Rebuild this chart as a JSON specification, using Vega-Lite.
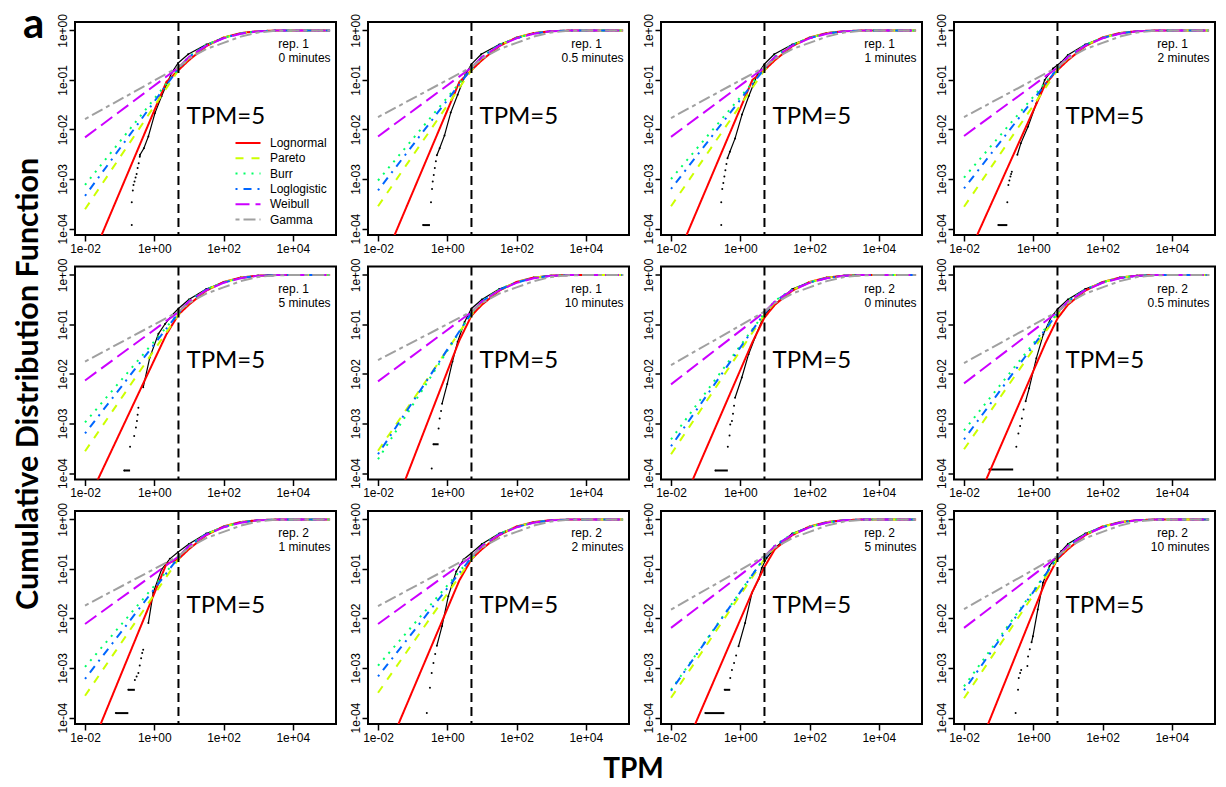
{
"$schema":"https://vega.github.io/schema/vega-lite/v6.json",
"autosize":{"type":"pad"},
"padding":{"left":13,"top":1,"right":0,"bottom":0},
"background":"white",
"title":{"text":"TPM","orient":"bottom","anchor":"middle","frame":"bounds","font":"Lato","fontSize":28,"fontWeight":"bold","color":"black","offset":12,"dx":19},
"data":{"values":[
{"k":"l","p":1,"r":"rep. 1","m":"0 minutes"},
{"k":"l","p":2,"r":"rep. 1","m":"0.5 minutes"},
{"k":"l","p":3,"r":"rep. 1","m":"1 minutes"},
{"k":"l","p":4,"r":"rep. 1","m":"2 minutes"},
{"k":"l","p":5,"r":"rep. 1","m":"5 minutes"},
{"k":"l","p":6,"r":"rep. 1","m":"10 minutes"},
{"k":"l","p":7,"r":"rep. 2","m":"0 minutes"},
{"k":"l","p":8,"r":"rep. 2","m":"0.5 minutes"},
{"k":"l","p":9,"r":"rep. 2","m":"1 minutes"},
{"k":"l","p":10,"r":"rep. 2","m":"2 minutes"},
{"k":"l","p":11,"r":"rep. 2","m":"5 minutes"},
{"k":"l","p":12,"r":"rep. 2","m":"10 minutes"},

{"k":"f","p":1,"x":0.01,"Lognormal":1.2e-5,"Pareto":2.45e-4,"Burr":7.59e-4,"Loglogistic":4.57e-4,"Weibull":0.00692,"Gamma":0.0162},
{"k":"f","p":1,"x":2.239,"Lognormal":0.0912},
{"k":"f","p":1,"x":5.012,"Lognormal":0.158,"Pareto":0.158,"Burr":0.17,"Loglogistic":0.17,"Weibull":0.178,"Gamma":0.182},
{"k":"f","p":2,"x":0.01,"Lognormal":1.2e-5,"Pareto":2.82e-4,"Burr":9.33e-4,"Loglogistic":5.89e-4,"Weibull":0.00724,"Gamma":0.0178},
{"k":"f","p":2,"x":2.239,"Lognormal":0.0912},
{"k":"f","p":2,"x":5.012,"Lognormal":0.158,"Pareto":0.158,"Burr":0.17,"Loglogistic":0.17,"Weibull":0.178,"Gamma":0.182},
{"k":"f","p":3,"x":0.01,"Lognormal":1.35e-5,"Pareto":2.82e-4,"Burr":1.0e-3,"Loglogistic":6.31e-4,"Weibull":0.00708,"Gamma":0.017},
{"k":"f","p":3,"x":2.239,"Lognormal":0.1},
{"k":"f","p":3,"x":5.012,"Lognormal":0.158,"Pareto":0.158,"Burr":0.17,"Loglogistic":0.17,"Weibull":0.178,"Gamma":0.182},
{"k":"f","p":4,"x":0.01,"Lognormal":1.91e-5,"Pareto":2.75e-4,"Burr":1.07e-3,"Loglogistic":6.46e-4,"Weibull":0.00741,"Gamma":0.0178},
{"k":"f","p":4,"x":2.239,"Lognormal":0.0832},
{"k":"f","p":4,"x":5.012,"Lognormal":0.158,"Pareto":0.158,"Burr":0.17,"Loglogistic":0.17,"Weibull":0.178,"Gamma":0.182},
{"k":"f","p":5,"x":0.01,"Lognormal":2.09e-5,"Pareto":2.75e-4,"Burr":1.05e-3,"Loglogistic":6.31e-4,"Weibull":0.00741,"Gamma":0.0178},
{"k":"f","p":5,"x":2.239,"Lognormal":0.0631},
{"k":"f","p":5,"x":5.012,"Lognormal":0.158,"Pareto":0.158,"Burr":0.17,"Loglogistic":0.17,"Weibull":0.178,"Gamma":0.182},
{"k":"f","p":6,"x":0.01,"Lognormal":2.8e-6,"Pareto":2.82e-4,"Burr":1.9e-4,"Loglogistic":2.4e-4,"Weibull":0.00708,"Gamma":0.0191},
{"k":"f","p":6,"x":2.239,"Lognormal":0.0479},
{"k":"f","p":6,"x":5.012,"Lognormal":0.151,"Pareto":0.158,"Burr":0.17,"Loglogistic":0.17,"Weibull":0.178,"Gamma":0.182},
{"k":"f","p":7,"x":0.01,"Lognormal":7.2e-6,"Pareto":2.4e-4,"Burr":4.79e-4,"Loglogistic":3.47e-4,"Weibull":0.00617,"Gamma":0.0151},
{"k":"f","p":7,"x":2.239,"Lognormal":0.0437},
{"k":"f","p":7,"x":5.012,"Lognormal":0.138,"Pareto":0.158,"Burr":0.17,"Loglogistic":0.17,"Weibull":0.178,"Gamma":0.182},
{"k":"f","p":8,"x":0.01,"Lognormal":6.9e-6,"Pareto":3.02e-4,"Burr":7.24e-4,"Loglogistic":4.79e-4,"Weibull":0.00646,"Gamma":0.0166},
{"k":"f","p":8,"x":2.239,"Lognormal":0.0417},
{"k":"f","p":8,"x":5.012,"Lognormal":0.132,"Pareto":0.158,"Burr":0.17,"Loglogistic":0.17,"Weibull":0.178,"Gamma":0.182},
{"k":"f","p":9,"x":0.01,"Lognormal":1.26e-5,"Pareto":2.75e-4,"Burr":1.05e-3,"Loglogistic":6.03e-4,"Weibull":0.00776,"Gamma":0.0182},
{"k":"f","p":9,"x":2.239,"Lognormal":0.126},
{"k":"f","p":9,"x":5.012,"Lognormal":0.158,"Pareto":0.158,"Burr":0.17,"Loglogistic":0.17,"Weibull":0.178,"Gamma":0.182},
{"k":"f","p":10,"x":0.01,"Lognormal":7.9e-6,"Pareto":3.16e-4,"Burr":1.12e-3,"Loglogistic":6.76e-4,"Weibull":0.00776,"Gamma":0.0178},
{"k":"f","p":10,"x":2.239,"Lognormal":0.0589},
{"k":"f","p":10,"x":5.012,"Lognormal":0.158,"Pareto":0.158,"Burr":0.17,"Loglogistic":0.17,"Weibull":0.178,"Gamma":0.182},
{"k":"f","p":11,"x":0.01,"Lognormal":5.5e-6,"Pareto":2.51e-4,"Burr":3.63e-4,"Loglogistic":3.47e-4,"Weibull":0.00646,"Gamma":0.0151},
{"k":"f","p":11,"x":2.239,"Lognormal":0.0347},
{"k":"f","p":11,"x":5.012,"Lognormal":0.11,"Pareto":0.158,"Burr":0.17,"Loglogistic":0.17,"Weibull":0.178,"Gamma":0.182},
{"k":"f","p":12,"x":0.01,"Lognormal":4.6e-6,"Pareto":2.45e-4,"Burr":4.27e-4,"Loglogistic":3.55e-4,"Weibull":0.00646,"Gamma":0.0155},
{"k":"f","p":12,"x":2.239,"Lognormal":0.055},
{"k":"f","p":12,"x":5.012,"Lognormal":0.158,"Pareto":0.158,"Burr":0.17,"Loglogistic":0.17,"Weibull":0.178,"Gamma":0.182},

{"k":"f","p":1,"x":10,"Lognormal":0.25,"Pareto":0.28,"Burr":0.3,"Loglogistic":0.29,"Weibull":0.29,"Gamma":0.27},
{"k":"f","p":1,"x":31.62,"Lognormal":0.48,"Pareto":0.5,"Burr":0.51,"Loglogistic":0.5,"Weibull":0.49,"Gamma":0.42},
{"k":"f","p":1,"x":100,"Lognormal":0.72,"Pareto":0.71,"Burr":0.71,"Loglogistic":0.7,"Weibull":0.69,"Gamma":0.56},
{"k":"f","p":1,"x":316.2,"Lognormal":0.885,"Pareto":0.88,"Burr":0.87,"Loglogistic":0.87,"Weibull":0.86,"Gamma":0.75},
{"k":"f","p":1,"x":1000,"Lognormal":0.966,"Pareto":0.967,"Burr":0.963,"Loglogistic":0.96,"Weibull":0.96,"Gamma":0.91},
{"k":"f","p":1,"x":3162,"Lognormal":0.993,"Pareto":0.994,"Burr":0.993,"Loglogistic":0.992,"Weibull":0.992,"Gamma":0.98},
{"k":"f","p":1,"x":10000,"Lognormal":0.999,"Pareto":0.999,"Burr":0.999,"Loglogistic":0.999,"Weibull":0.999,"Gamma":0.998},
{"k":"f","p":1,"x":120000,"Lognormal":1,"Pareto":1,"Burr":1,"Loglogistic":1,"Weibull":1,"Gamma":1},
{"k":"f","p":2,"x":10,"Lognormal":0.25,"Pareto":0.28,"Burr":0.3,"Loglogistic":0.29,"Weibull":0.29,"Gamma":0.27},
{"k":"f","p":2,"x":31.62,"Lognormal":0.48,"Pareto":0.5,"Burr":0.51,"Loglogistic":0.5,"Weibull":0.49,"Gamma":0.42},
{"k":"f","p":2,"x":100,"Lognormal":0.72,"Pareto":0.71,"Burr":0.71,"Loglogistic":0.7,"Weibull":0.69,"Gamma":0.56},
{"k":"f","p":2,"x":316.2,"Lognormal":0.885,"Pareto":0.88,"Burr":0.87,"Loglogistic":0.87,"Weibull":0.86,"Gamma":0.75},
{"k":"f","p":2,"x":1000,"Lognormal":0.966,"Pareto":0.967,"Burr":0.963,"Loglogistic":0.96,"Weibull":0.96,"Gamma":0.91},
{"k":"f","p":2,"x":3162,"Lognormal":0.993,"Pareto":0.994,"Burr":0.993,"Loglogistic":0.992,"Weibull":0.992,"Gamma":0.98},
{"k":"f","p":2,"x":10000,"Lognormal":0.999,"Pareto":0.999,"Burr":0.999,"Loglogistic":0.999,"Weibull":0.999,"Gamma":0.998},
{"k":"f","p":2,"x":120000,"Lognormal":1,"Pareto":1,"Burr":1,"Loglogistic":1,"Weibull":1,"Gamma":1},
{"k":"f","p":3,"x":10,"Lognormal":0.25,"Pareto":0.28,"Burr":0.3,"Loglogistic":0.29,"Weibull":0.29,"Gamma":0.27},
{"k":"f","p":3,"x":31.62,"Lognormal":0.48,"Pareto":0.5,"Burr":0.51,"Loglogistic":0.5,"Weibull":0.49,"Gamma":0.42},
{"k":"f","p":3,"x":100,"Lognormal":0.72,"Pareto":0.71,"Burr":0.71,"Loglogistic":0.7,"Weibull":0.69,"Gamma":0.56},
{"k":"f","p":3,"x":316.2,"Lognormal":0.885,"Pareto":0.88,"Burr":0.87,"Loglogistic":0.87,"Weibull":0.86,"Gamma":0.75},
{"k":"f","p":3,"x":1000,"Lognormal":0.966,"Pareto":0.967,"Burr":0.963,"Loglogistic":0.96,"Weibull":0.96,"Gamma":0.91},
{"k":"f","p":3,"x":3162,"Lognormal":0.993,"Pareto":0.994,"Burr":0.993,"Loglogistic":0.992,"Weibull":0.992,"Gamma":0.98},
{"k":"f","p":3,"x":10000,"Lognormal":0.999,"Pareto":0.999,"Burr":0.999,"Loglogistic":0.999,"Weibull":0.999,"Gamma":0.998},
{"k":"f","p":3,"x":120000,"Lognormal":1,"Pareto":1,"Burr":1,"Loglogistic":1,"Weibull":1,"Gamma":1},
{"k":"f","p":4,"x":10,"Lognormal":0.25,"Pareto":0.28,"Burr":0.3,"Loglogistic":0.29,"Weibull":0.29,"Gamma":0.27},
{"k":"f","p":4,"x":31.62,"Lognormal":0.48,"Pareto":0.5,"Burr":0.51,"Loglogistic":0.5,"Weibull":0.49,"Gamma":0.42},
{"k":"f","p":4,"x":100,"Lognormal":0.72,"Pareto":0.71,"Burr":0.71,"Loglogistic":0.7,"Weibull":0.69,"Gamma":0.56},
{"k":"f","p":4,"x":316.2,"Lognormal":0.885,"Pareto":0.88,"Burr":0.87,"Loglogistic":0.87,"Weibull":0.86,"Gamma":0.75},
{"k":"f","p":4,"x":1000,"Lognormal":0.966,"Pareto":0.967,"Burr":0.963,"Loglogistic":0.96,"Weibull":0.96,"Gamma":0.91},
{"k":"f","p":4,"x":3162,"Lognormal":0.993,"Pareto":0.994,"Burr":0.993,"Loglogistic":0.992,"Weibull":0.992,"Gamma":0.98},
{"k":"f","p":4,"x":10000,"Lognormal":0.999,"Pareto":0.999,"Burr":0.999,"Loglogistic":0.999,"Weibull":0.999,"Gamma":0.998},
{"k":"f","p":4,"x":120000,"Lognormal":1,"Pareto":1,"Burr":1,"Loglogistic":1,"Weibull":1,"Gamma":1},
{"k":"f","p":5,"x":10,"Lognormal":0.25,"Pareto":0.28,"Burr":0.3,"Loglogistic":0.29,"Weibull":0.29,"Gamma":0.27},
{"k":"f","p":5,"x":31.62,"Lognormal":0.48,"Pareto":0.5,"Burr":0.51,"Loglogistic":0.5,"Weibull":0.49,"Gamma":0.42},
{"k":"f","p":5,"x":100,"Lognormal":0.72,"Pareto":0.71,"Burr":0.71,"Loglogistic":0.7,"Weibull":0.69,"Gamma":0.56},
{"k":"f","p":5,"x":316.2,"Lognormal":0.885,"Pareto":0.88,"Burr":0.87,"Loglogistic":0.87,"Weibull":0.86,"Gamma":0.75},
{"k":"f","p":5,"x":1000,"Lognormal":0.966,"Pareto":0.967,"Burr":0.963,"Loglogistic":0.96,"Weibull":0.96,"Gamma":0.91},
{"k":"f","p":5,"x":3162,"Lognormal":0.993,"Pareto":0.994,"Burr":0.993,"Loglogistic":0.992,"Weibull":0.992,"Gamma":0.98},
{"k":"f","p":5,"x":10000,"Lognormal":0.999,"Pareto":0.999,"Burr":0.999,"Loglogistic":0.999,"Weibull":0.999,"Gamma":0.998},
{"k":"f","p":5,"x":120000,"Lognormal":1,"Pareto":1,"Burr":1,"Loglogistic":1,"Weibull":1,"Gamma":1},
{"k":"f","p":6,"x":10,"Lognormal":0.25,"Pareto":0.28,"Burr":0.3,"Loglogistic":0.29,"Weibull":0.29,"Gamma":0.27},
{"k":"f","p":6,"x":31.62,"Lognormal":0.48,"Pareto":0.5,"Burr":0.51,"Loglogistic":0.5,"Weibull":0.49,"Gamma":0.42},
{"k":"f","p":6,"x":100,"Lognormal":0.72,"Pareto":0.71,"Burr":0.71,"Loglogistic":0.7,"Weibull":0.69,"Gamma":0.56},
{"k":"f","p":6,"x":316.2,"Lognormal":0.885,"Pareto":0.88,"Burr":0.87,"Loglogistic":0.87,"Weibull":0.86,"Gamma":0.75},
{"k":"f","p":6,"x":1000,"Lognormal":0.966,"Pareto":0.967,"Burr":0.963,"Loglogistic":0.96,"Weibull":0.96,"Gamma":0.91},
{"k":"f","p":6,"x":3162,"Lognormal":0.993,"Pareto":0.994,"Burr":0.993,"Loglogistic":0.992,"Weibull":0.992,"Gamma":0.98},
{"k":"f","p":6,"x":10000,"Lognormal":0.999,"Pareto":0.999,"Burr":0.999,"Loglogistic":0.999,"Weibull":0.999,"Gamma":0.998},
{"k":"f","p":6,"x":120000,"Lognormal":1,"Pareto":1,"Burr":1,"Loglogistic":1,"Weibull":1,"Gamma":1},
{"k":"f","p":7,"x":10,"Lognormal":0.25,"Pareto":0.28,"Burr":0.3,"Loglogistic":0.29,"Weibull":0.29,"Gamma":0.27},
{"k":"f","p":7,"x":31.62,"Lognormal":0.48,"Pareto":0.5,"Burr":0.51,"Loglogistic":0.5,"Weibull":0.49,"Gamma":0.42},
{"k":"f","p":7,"x":100,"Lognormal":0.72,"Pareto":0.71,"Burr":0.71,"Loglogistic":0.7,"Weibull":0.69,"Gamma":0.56},
{"k":"f","p":7,"x":316.2,"Lognormal":0.885,"Pareto":0.88,"Burr":0.87,"Loglogistic":0.87,"Weibull":0.86,"Gamma":0.75},
{"k":"f","p":7,"x":1000,"Lognormal":0.966,"Pareto":0.967,"Burr":0.963,"Loglogistic":0.96,"Weibull":0.96,"Gamma":0.91},
{"k":"f","p":7,"x":3162,"Lognormal":0.993,"Pareto":0.994,"Burr":0.993,"Loglogistic":0.992,"Weibull":0.992,"Gamma":0.98},
{"k":"f","p":7,"x":10000,"Lognormal":0.999,"Pareto":0.999,"Burr":0.999,"Loglogistic":0.999,"Weibull":0.999,"Gamma":0.998},
{"k":"f","p":7,"x":120000,"Lognormal":1,"Pareto":1,"Burr":1,"Loglogistic":1,"Weibull":1,"Gamma":1},
{"k":"f","p":8,"x":10,"Lognormal":0.25,"Pareto":0.28,"Burr":0.3,"Loglogistic":0.29,"Weibull":0.29,"Gamma":0.27},
{"k":"f","p":8,"x":31.62,"Lognormal":0.48,"Pareto":0.5,"Burr":0.51,"Loglogistic":0.5,"Weibull":0.49,"Gamma":0.42},
{"k":"f","p":8,"x":100,"Lognormal":0.72,"Pareto":0.71,"Burr":0.71,"Loglogistic":0.7,"Weibull":0.69,"Gamma":0.56},
{"k":"f","p":8,"x":316.2,"Lognormal":0.885,"Pareto":0.88,"Burr":0.87,"Loglogistic":0.87,"Weibull":0.86,"Gamma":0.75},
{"k":"f","p":8,"x":1000,"Lognormal":0.966,"Pareto":0.967,"Burr":0.963,"Loglogistic":0.96,"Weibull":0.96,"Gamma":0.91},
{"k":"f","p":8,"x":3162,"Lognormal":0.993,"Pareto":0.994,"Burr":0.993,"Loglogistic":0.992,"Weibull":0.992,"Gamma":0.98},
{"k":"f","p":8,"x":10000,"Lognormal":0.999,"Pareto":0.999,"Burr":0.999,"Loglogistic":0.999,"Weibull":0.999,"Gamma":0.998},
{"k":"f","p":8,"x":120000,"Lognormal":1,"Pareto":1,"Burr":1,"Loglogistic":1,"Weibull":1,"Gamma":1},
{"k":"f","p":9,"x":10,"Lognormal":0.25,"Pareto":0.28,"Burr":0.3,"Loglogistic":0.29,"Weibull":0.29,"Gamma":0.27},
{"k":"f","p":9,"x":31.62,"Lognormal":0.48,"Pareto":0.5,"Burr":0.51,"Loglogistic":0.5,"Weibull":0.49,"Gamma":0.42},
{"k":"f","p":9,"x":100,"Lognormal":0.72,"Pareto":0.71,"Burr":0.71,"Loglogistic":0.7,"Weibull":0.69,"Gamma":0.56},
{"k":"f","p":9,"x":316.2,"Lognormal":0.885,"Pareto":0.88,"Burr":0.87,"Loglogistic":0.87,"Weibull":0.86,"Gamma":0.75},
{"k":"f","p":9,"x":1000,"Lognormal":0.966,"Pareto":0.967,"Burr":0.963,"Loglogistic":0.96,"Weibull":0.96,"Gamma":0.91},
{"k":"f","p":9,"x":3162,"Lognormal":0.993,"Pareto":0.994,"Burr":0.993,"Loglogistic":0.992,"Weibull":0.992,"Gamma":0.98},
{"k":"f","p":9,"x":10000,"Lognormal":0.999,"Pareto":0.999,"Burr":0.999,"Loglogistic":0.999,"Weibull":0.999,"Gamma":0.998},
{"k":"f","p":9,"x":120000,"Lognormal":1,"Pareto":1,"Burr":1,"Loglogistic":1,"Weibull":1,"Gamma":1},
{"k":"f","p":10,"x":10,"Lognormal":0.25,"Pareto":0.28,"Burr":0.3,"Loglogistic":0.29,"Weibull":0.29,"Gamma":0.27},
{"k":"f","p":10,"x":31.62,"Lognormal":0.48,"Pareto":0.5,"Burr":0.51,"Loglogistic":0.5,"Weibull":0.49,"Gamma":0.42},
{"k":"f","p":10,"x":100,"Lognormal":0.72,"Pareto":0.71,"Burr":0.71,"Loglogistic":0.7,"Weibull":0.69,"Gamma":0.56},
{"k":"f","p":10,"x":316.2,"Lognormal":0.885,"Pareto":0.88,"Burr":0.87,"Loglogistic":0.87,"Weibull":0.86,"Gamma":0.75},
{"k":"f","p":10,"x":1000,"Lognormal":0.966,"Pareto":0.967,"Burr":0.963,"Loglogistic":0.96,"Weibull":0.96,"Gamma":0.91},
{"k":"f","p":10,"x":3162,"Lognormal":0.993,"Pareto":0.994,"Burr":0.993,"Loglogistic":0.992,"Weibull":0.992,"Gamma":0.98},
{"k":"f","p":10,"x":10000,"Lognormal":0.999,"Pareto":0.999,"Burr":0.999,"Loglogistic":0.999,"Weibull":0.999,"Gamma":0.998},
{"k":"f","p":10,"x":120000,"Lognormal":1,"Pareto":1,"Burr":1,"Loglogistic":1,"Weibull":1,"Gamma":1},
{"k":"f","p":11,"x":10,"Lognormal":0.25,"Pareto":0.28,"Burr":0.3,"Loglogistic":0.29,"Weibull":0.29,"Gamma":0.27},
{"k":"f","p":11,"x":31.62,"Lognormal":0.48,"Pareto":0.5,"Burr":0.51,"Loglogistic":0.5,"Weibull":0.49,"Gamma":0.42},
{"k":"f","p":11,"x":100,"Lognormal":0.72,"Pareto":0.71,"Burr":0.71,"Loglogistic":0.7,"Weibull":0.69,"Gamma":0.56},
{"k":"f","p":11,"x":316.2,"Lognormal":0.885,"Pareto":0.88,"Burr":0.87,"Loglogistic":0.87,"Weibull":0.86,"Gamma":0.75},
{"k":"f","p":11,"x":1000,"Lognormal":0.966,"Pareto":0.967,"Burr":0.963,"Loglogistic":0.96,"Weibull":0.96,"Gamma":0.91},
{"k":"f","p":11,"x":3162,"Lognormal":0.993,"Pareto":0.994,"Burr":0.993,"Loglogistic":0.992,"Weibull":0.992,"Gamma":0.98},
{"k":"f","p":11,"x":10000,"Lognormal":0.999,"Pareto":0.999,"Burr":0.999,"Loglogistic":0.999,"Weibull":0.999,"Gamma":0.998},
{"k":"f","p":11,"x":120000,"Lognormal":1,"Pareto":1,"Burr":1,"Loglogistic":1,"Weibull":1,"Gamma":1},
{"k":"f","p":12,"x":10,"Lognormal":0.25,"Pareto":0.28,"Burr":0.3,"Loglogistic":0.29,"Weibull":0.29,"Gamma":0.27},
{"k":"f","p":12,"x":31.62,"Lognormal":0.48,"Pareto":0.5,"Burr":0.51,"Loglogistic":0.5,"Weibull":0.49,"Gamma":0.42},
{"k":"f","p":12,"x":100,"Lognormal":0.72,"Pareto":0.71,"Burr":0.71,"Loglogistic":0.7,"Weibull":0.69,"Gamma":0.56},
{"k":"f","p":12,"x":316.2,"Lognormal":0.885,"Pareto":0.88,"Burr":0.87,"Loglogistic":0.87,"Weibull":0.86,"Gamma":0.75},
{"k":"f","p":12,"x":1000,"Lognormal":0.966,"Pareto":0.967,"Burr":0.963,"Loglogistic":0.96,"Weibull":0.96,"Gamma":0.91},
{"k":"f","p":12,"x":3162,"Lognormal":0.993,"Pareto":0.994,"Burr":0.993,"Loglogistic":0.992,"Weibull":0.992,"Gamma":0.98},
{"k":"f","p":12,"x":10000,"Lognormal":0.999,"Pareto":0.999,"Burr":0.999,"Loglogistic":0.999,"Weibull":0.999,"Gamma":0.998},
{"k":"f","p":12,"x":120000,"Lognormal":1,"Pareto":1,"Burr":1,"Loglogistic":1,"Weibull":1,"Gamma":1},

{"k":"e","p":1,"x":0.224,"y":1.175e-4},{"k":"e","p":1,"x":0.224,"y":3.39e-4},{"k":"e","p":1,"x":0.24,"y":5.89e-4},{"k":"e","p":1,"x":0.251,"y":7.59e-4},{"k":"e","p":1,"x":0.269,"y":8.91e-4},{"k":"e","p":1,"x":0.288,"y":1.07e-3},{"k":"e","p":1,"x":0.309,"y":1.26e-3},{"k":"e","p":1,"x":0.331,"y":1.66e-3},{"k":"e","p":1,"x":0.355,"y":2.09e-3},{"k":"e","p":1,"x":0.38,"y":2.82e-3},{"k":"e","p":1,"x":0.389,"y":3.09e-3},{"k":"e","p":1,"x":0.501,"y":4.17e-3},{"k":"e","p":1,"x":0.676,"y":7.24e-3},{"k":"e","p":1,"x":1.047,"y":0.0214},{"k":"e","p":1,"x":1.622,"y":0.0468},{"k":"e","p":1,"x":3.162,"y":0.138},{"k":"e","p":1,"x":4.898,"y":0.22},{"k":"e","p":1,"x":9.55,"y":0.33},{"k":"e","p":1,"x":31.6,"y":0.52},{"k":"e","p":1,"x":100,"y":0.71},{"k":"e","p":1,"x":316,"y":0.885},{"k":"e","p":1,"x":1000,"y":0.97},{"k":"e","p":1,"x":3162,"y":0.996},{"k":"e","p":1,"x":80000,"y":1},

{"k":"e","p":2,"x":0.2,"y":1.175e-4},{"k":"e","p":2,"x":0.339,"y":3.39e-4},{"k":"e","p":2,"x":0.363,"y":6.31e-4},{"k":"e","p":2,"x":0.38,"y":8.91e-4},{"k":"e","p":2,"x":0.407,"y":1.2e-3},{"k":"e","p":2,"x":0.437,"y":1.66e-3},{"k":"e","p":2,"x":0.468,"y":2.29e-3},{"k":"e","p":2,"x":0.501,"y":3.02e-3},{"k":"e","p":2,"x":0.603,"y":4.17e-3},{"k":"e","p":2,"x":0.832,"y":7.59e-3},{"k":"e","p":2,"x":1.259,"y":0.0219},{"k":"e","p":2,"x":1.995,"y":0.0501},{"k":"e","p":2,"x":3.311,"y":0.126},{"k":"e","p":2,"x":5.012,"y":0.21},{"k":"e","p":2,"x":9.55,"y":0.33},{"k":"e","p":2,"x":31.6,"y":0.52},{"k":"e","p":2,"x":100,"y":0.71},{"k":"e","p":2,"x":316,"y":0.885},{"k":"e","p":2,"x":1000,"y":0.97},{"k":"e","p":2,"x":3162,"y":0.996},{"k":"e","p":2,"x":80000,"y":1},

{"k":"e","p":3,"x":0.282,"y":1.175e-4},{"k":"e","p":3,"x":0.282,"y":3.39e-4},{"k":"e","p":3,"x":0.302,"y":6.31e-4},{"k":"e","p":3,"x":0.324,"y":8.32e-4},{"k":"e","p":3,"x":0.347,"y":1.12e-3},{"k":"e","p":3,"x":0.372,"y":1.51e-3},{"k":"e","p":3,"x":0.398,"y":2.0e-3},{"k":"e","p":3,"x":0.427,"y":2.63e-3},{"k":"e","p":3,"x":0.501,"y":3.55e-3},{"k":"e","p":3,"x":0.708,"y":6.61e-3},{"k":"e","p":3,"x":1.122,"y":0.02},{"k":"e","p":3,"x":1.778,"y":0.0479},{"k":"e","p":3,"x":3.162,"y":0.132},{"k":"e","p":3,"x":5.012,"y":0.21},{"k":"e","p":3,"x":9.55,"y":0.33},{"k":"e","p":3,"x":31.6,"y":0.52},{"k":"e","p":3,"x":100,"y":0.71},{"k":"e","p":3,"x":316,"y":0.885},{"k":"e","p":3,"x":1000,"y":0.97},{"k":"e","p":3,"x":3162,"y":0.996},{"k":"e","p":3,"x":80000,"y":1},

{"k":"e","p":4,"x":0.0977,"y":1.175e-4},{"k":"e","p":4,"x":0.178,"y":3.39e-4},{"k":"e","p":4,"x":0.191,"y":7.59e-4},{"k":"e","p":4,"x":0.204,"y":9.33e-4},{"k":"e","p":4,"x":0.219,"y":1.12e-3},{"k":"e","p":4,"x":0.229,"y":1.26e-3},{"k":"e","p":4,"x":0.24,"y":1.41e-3},{"k":"e","p":4,"x":0.347,"y":3.09e-3},{"k":"e","p":4,"x":0.437,"y":5.25e-3},{"k":"e","p":4,"x":0.708,"y":0.0115},{"k":"e","p":4,"x":1.23,"y":0.0339},{"k":"e","p":4,"x":2.138,"y":0.1},{"k":"e","p":4,"x":3.715,"y":0.17},{"k":"e","p":4,"x":6.457,"y":0.23},{"k":"e","p":4,"x":10,"y":0.32},{"k":"e","p":4,"x":31.6,"y":0.52},{"k":"e","p":4,"x":100,"y":0.71},{"k":"e","p":4,"x":316,"y":0.885},{"k":"e","p":4,"x":1000,"y":0.97},{"k":"e","p":4,"x":3162,"y":0.996},{"k":"e","p":4,"x":80000,"y":1},

{"k":"e","p":5,"x":0.135,"y":1.122e-4},{"k":"e","p":5,"x":0.2,"y":3.39e-4},{"k":"e","p":5,"x":0.263,"y":5.62e-4},{"k":"e","p":5,"x":0.295,"y":8.32e-4},{"k":"e","p":5,"x":0.316,"y":1.12e-3},{"k":"e","p":5,"x":0.331,"y":1.51e-3},{"k":"e","p":5,"x":0.347,"y":2.09e-3},{"k":"e","p":5,"x":0.479,"y":5.37e-3},{"k":"e","p":5,"x":0.741,"y":0.0214},{"k":"e","p":5,"x":1.318,"y":0.0646},{"k":"e","p":5,"x":2.042,"y":0.102},{"k":"e","p":5,"x":3.162,"y":0.151},{"k":"e","p":5,"x":5.012,"y":0.21},{"k":"e","p":5,"x":10,"y":0.32},{"k":"e","p":5,"x":31.6,"y":0.52},{"k":"e","p":5,"x":100,"y":0.71},{"k":"e","p":5,"x":316,"y":0.885},{"k":"e","p":5,"x":1000,"y":0.97},{"k":"e","p":5,"x":3162,"y":0.996},{"k":"e","p":5,"x":80000,"y":1},

{"k":"e","p":6,"x":0.355,"y":1.23e-4},{"k":"e","p":6,"x":0.398,"y":3.8e-4},{"k":"e","p":6,"x":0.562,"y":7.94e-4},{"k":"e","p":6,"x":0.603,"y":1.26e-3},{"k":"e","p":6,"x":0.661,"y":1.78e-3},{"k":"e","p":6,"x":0.708,"y":2.51e-3},{"k":"e","p":6,"x":1.0,"y":6.31e-3},{"k":"e","p":6,"x":1.413,"y":0.0178},{"k":"e","p":6,"x":1.995,"y":0.0447},{"k":"e","p":6,"x":3.162,"y":0.112},{"k":"e","p":6,"x":5.012,"y":0.21},{"k":"e","p":6,"x":10,"y":0.32},{"k":"e","p":6,"x":31.6,"y":0.52},{"k":"e","p":6,"x":100,"y":0.71},{"k":"e","p":6,"x":316,"y":0.885},{"k":"e","p":6,"x":1000,"y":0.97},{"k":"e","p":6,"x":3162,"y":0.996},{"k":"e","p":6,"x":80000,"y":1},

{"k":"e","p":7,"x":0.191,"y":1.122e-4},{"k":"e","p":7,"x":0.437,"y":3.39e-4},{"k":"e","p":7,"x":0.49,"y":5.75e-4},{"k":"e","p":7,"x":0.513,"y":9.55e-4},{"k":"e","p":7,"x":0.575,"y":1.12e-3},{"k":"e","p":7,"x":0.617,"y":1.58e-3},{"k":"e","p":7,"x":0.661,"y":2.29e-3},{"k":"e","p":7,"x":0.708,"y":3.31e-3},{"k":"e","p":7,"x":1.109,"y":8.51e-3},{"k":"e","p":7,"x":1.738,"y":0.0251},{"k":"e","p":7,"x":2.692,"y":0.055},{"k":"e","p":7,"x":4.169,"y":0.1175},{"k":"e","p":7,"x":5.248,"y":0.162},{"k":"e","p":7,"x":8.128,"y":0.22},{"k":"e","p":7,"x":31.6,"y":0.52},{"k":"e","p":7,"x":100,"y":0.71},{"k":"e","p":7,"x":316,"y":0.885},{"k":"e","p":7,"x":1000,"y":0.97},{"k":"e","p":7,"x":3162,"y":0.996},{"k":"e","p":7,"x":80000,"y":1},

{"k":"e","p":8,"x":0.0537,"y":1.175e-4},{"k":"e","p":8,"x":0.324,"y":3.39e-4},{"k":"e","p":8,"x":0.372,"y":6.31e-4},{"k":"e","p":8,"x":0.417,"y":8.91e-4},{"k":"e","p":8,"x":0.468,"y":1.26e-3},{"k":"e","p":8,"x":0.525,"y":1.91e-3},{"k":"e","p":8,"x":0.603,"y":2.82e-3},{"k":"e","p":8,"x":0.759,"y":5.13e-3},{"k":"e","p":8,"x":1.23,"y":0.0209},{"k":"e","p":8,"x":1.95,"y":0.0631},{"k":"e","p":8,"x":3.311,"y":0.141},{"k":"e","p":8,"x":5.248,"y":0.21},{"k":"e","p":8,"x":10,"y":0.32},{"k":"e","p":8,"x":31.6,"y":0.52},{"k":"e","p":8,"x":100,"y":0.71},{"k":"e","p":8,"x":316,"y":0.885},{"k":"e","p":8,"x":1000,"y":0.97},{"k":"e","p":8,"x":3162,"y":0.996},{"k":"e","p":8,"x":80000,"y":1},

{"k":"e","p":9,"x":0.0776,"y":1.23e-4},{"k":"e","p":9,"x":0.178,"y":3.63e-4},{"k":"e","p":9,"x":0.275,"y":5.75e-4},{"k":"e","p":9,"x":0.309,"y":6.76e-4},{"k":"e","p":9,"x":0.347,"y":7.94e-4},{"k":"e","p":9,"x":0.38,"y":1.12e-3},{"k":"e","p":9,"x":0.417,"y":1.58e-3},{"k":"e","p":9,"x":0.447,"y":2.0e-3},{"k":"e","p":9,"x":0.479,"y":2.34e-3},{"k":"e","p":9,"x":0.676,"y":8.13e-3},{"k":"e","p":9,"x":0.933,"y":0.0331},{"k":"e","p":9,"x":1.622,"y":0.0977},{"k":"e","p":9,"x":2.818,"y":0.16},{"k":"e","p":9,"x":4.898,"y":0.22},{"k":"e","p":9,"x":10,"y":0.32},{"k":"e","p":9,"x":31.6,"y":0.52},{"k":"e","p":9,"x":100,"y":0.71},{"k":"e","p":9,"x":316,"y":0.885},{"k":"e","p":9,"x":1000,"y":0.97},{"k":"e","p":9,"x":3162,"y":0.996},{"k":"e","p":9,"x":80000,"y":1},

{"k":"e","p":10,"x":0.257,"y":1.23e-4},{"k":"e","p":10,"x":0.316,"y":3.98e-4},{"k":"e","p":10,"x":0.355,"y":7.94e-4},{"k":"e","p":10,"x":0.398,"y":1.26e-3},{"k":"e","p":10,"x":0.447,"y":1.91e-3},{"k":"e","p":10,"x":0.501,"y":2.82e-3},{"k":"e","p":10,"x":0.708,"y":7.08e-3},{"k":"e","p":10,"x":1.072,"y":0.0282},{"k":"e","p":10,"x":1.82,"y":0.0891},{"k":"e","p":10,"x":2.951,"y":0.155},{"k":"e","p":10,"x":5.012,"y":0.21},{"k":"e","p":10,"x":10,"y":0.32},{"k":"e","p":10,"x":31.6,"y":0.52},{"k":"e","p":10,"x":100,"y":0.71},{"k":"e","p":10,"x":316,"y":0.885},{"k":"e","p":10,"x":1000,"y":0.97},{"k":"e","p":10,"x":3162,"y":0.996},{"k":"e","p":10,"x":80000,"y":1},

{"k":"e","p":11,"x":0.0977,"y":1.23e-4},{"k":"e","p":11,"x":0.355,"y":3.63e-4},{"k":"e","p":11,"x":0.513,"y":6.31e-4},{"k":"e","p":11,"x":0.575,"y":9.12e-4},{"k":"e","p":11,"x":0.661,"y":1.26e-3},{"k":"e","p":11,"x":0.759,"y":1.78e-3},{"k":"e","p":11,"x":0.891,"y":2.75e-3},{"k":"e","p":11,"x":1.38,"y":8.13e-3},{"k":"e","p":11,"x":2.188,"y":0.0331},{"k":"e","p":11,"x":3.388,"y":0.0617},{"k":"e","p":11,"x":4.169,"y":0.105},{"k":"e","p":11,"x":5.754,"y":0.166},{"k":"e","p":11,"x":10.23,"y":0.269},{"k":"e","p":11,"x":31.6,"y":0.52},{"k":"e","p":11,"x":100,"y":0.71},{"k":"e","p":11,"x":316,"y":0.885},{"k":"e","p":11,"x":1000,"y":0.97},{"k":"e","p":11,"x":3162,"y":0.996},{"k":"e","p":11,"x":80000,"y":1},

{"k":"e","p":12,"x":0.309,"y":1.23e-4},{"k":"e","p":12,"x":0.363,"y":3.63e-4},{"k":"e","p":12,"x":0.38,"y":6.31e-4},{"k":"e","p":12,"x":0.417,"y":7.94e-4},{"k":"e","p":12,"x":0.447,"y":9.12e-4},{"k":"e","p":12,"x":0.676,"y":1.1e-3},{"k":"e","p":12,"x":0.708,"y":1.7e-3},{"k":"e","p":12,"x":0.794,"y":2.4e-3},{"k":"e","p":12,"x":0.891,"y":3.31e-3},{"k":"e","p":12,"x":0.977,"y":4.37e-3},{"k":"e","p":12,"x":1.349,"y":0.0151},{"k":"e","p":12,"x":1.905,"y":0.0525},{"k":"e","p":12,"x":2.951,"y":0.115},{"k":"e","p":12,"x":4.074,"y":0.155},{"k":"e","p":12,"x":6.457,"y":0.23},{"k":"e","p":12,"x":10,"y":0.32},{"k":"e","p":12,"x":31.6,"y":0.52},{"k":"e","p":12,"x":100,"y":0.71},{"k":"e","p":12,"x":316,"y":0.885},{"k":"e","p":12,"x":1000,"y":0.97},{"k":"e","p":12,"x":3162,"y":0.996},{"k":"e","p":12,"x":80000,"y":1},

{"k":"d","p":2,"x":0.2,"x2":0.316,"y":1.175e-4},
{"k":"d","p":4,"x":0.0977,"x2":0.178,"y":1.175e-4},
{"k":"d","p":5,"x":0.135,"x2":0.2,"y":1.122e-4},
{"k":"d","p":6,"x":0.398,"x2":0.562,"y":3.8e-4},
{"k":"d","p":7,"x":0.191,"x2":0.437,"y":1.122e-4},
{"k":"d","p":8,"x":0.0537,"x2":0.263,"y":1.175e-4},
{"k":"d","p":9,"x":0.0776,"x2":0.178,"y":1.23e-4},
{"k":"d","p":9,"x":0.178,"x2":0.275,"y":3.63e-4},
{"k":"d","p":11,"x":0.0977,"x2":0.347,"y":1.23e-4},
{"k":"d","p":11,"x":0.355,"x2":0.513,"y":3.63e-4}
]},
"facet":{"field":"p","type":"ordinal","sort":"ascending","header":{"title":null,"labels":false,"labelExpr":"''","labelFontSize":1,"labelPadding":0}},
"columns":4,
"spacing":{"row":31.5,"column":32},
"bounds":"flush",
"resolve":{"axis":{"x":"independent","y":"independent"}},
"spec":{
"width":261,"height":213,
"layer":[
{"transform":[{"filter":"datum.k==='e' && datum.y>0.0025"}],
 "mark":{"type":"line","color":"black","strokeWidth":1.2,"clip":true},
 "encoding":{
  "x":{"field":"x","type":"quantitative","scale":{"type":"log","domain":[0.005129,177800],"nice":false},"axis":{"values":[0.01,1,100,10000],"title":null,"grid":false,"domain":false,"tickSize":6,"tickWidth":1.5,"tickColor":"black","labelExpr":"(datum.value < 1 ? '1e-0' : '1e+0') + round(abs(log(datum.value)/LN10))","labelFont":"Liberation Sans","labelFontSize":12,"labelColor":"black","labelPadding":2,"labelFlush":false,"labelOverlap":false}},
  "y":{"field":"y","type":"quantitative","scale":{"type":"log","domain":[0.0000741,1.479],"nice":false},"axis":{"values":[0.0001,0.001,0.01,0.1,1],"title":null,"grid":false,"domain":false,"tickSize":6,"tickWidth":1.5,"tickColor":"black","labelExpr":"(datum.value < 1 ? '1e-0' : '1e+0') + round(abs(log(datum.value)/LN10))","labelFont":"Liberation Sans","labelFontSize":12,"labelColor":"black","labelAngle":270,"labelAlign":"center","labelBaseline":"bottom","labelPadding":0,"labelFlush":false,"labelOverlap":false}}
 }},
{"transform":[{"filter":"datum.k==='e'"}],
 "mark":{"type":"circle","size":4,"color":"black","opacity":1,"clip":true},
 "encoding":{
  "x":{"field":"x","type":"quantitative","scale":{"type":"log","domain":[0.005129,177800],"nice":false}},
  "y":{"field":"y","type":"quantitative","scale":{"type":"log","domain":[0.0000741,1.479],"nice":false}}
 }},
{"transform":[{"filter":"datum.k==='d'"}],
 "mark":{"type":"rule","color":"black","strokeWidth":2,"clip":true},
 "encoding":{
  "x":{"field":"x","type":"quantitative","scale":{"type":"log","domain":[0.005129,177800],"nice":false}},
  "x2":{"field":"x2"},
  "y":{"field":"y","type":"quantitative","scale":{"type":"log","domain":[0.0000741,1.479],"nice":false}}
 }},
{"transform":[{"filter":"datum.k==='f'"},{"fold":["Lognormal","Pareto","Burr","Loglogistic","Weibull","Gamma"],"as":["d","y"]},{"filter":"isValid(datum.y)"}],
 "mark":{"type":"line","strokeWidth":2,"clip":true},
 "encoding":{
  "x":{"field":"x","type":"quantitative","scale":{"type":"log","domain":[0.005129,177800],"nice":false}},
  "y":{"field":"y","type":"quantitative","scale":{"type":"log","domain":[0.0000741,1.479],"nice":false}},
  "color":{"field":"d","type":"nominal","scale":{"domain":["Lognormal","Pareto","Burr","Loglogistic","Weibull","Gamma"],"range":["#FF0000","#CCFF00","#00FF66","#0066FF","#CC00FF","#A0A0A0"]},"legend":{"title":null,"orient":"none","legendX":167,"legendY":115,"symbolType":"M-2.5,0L2.5,0","symbolSize":100,"symbolStrokeWidth":2,"labelFont":"Liberation Sans","labelFontSize":12,"labelColor":"black","labelOffset":16,"rowPadding":3.3,"padding":0}},
  "strokeDash":{"field":"d","type":"nominal","scale":{"domain":["Lognormal","Pareto","Burr","Loglogistic","Weibull","Gamma"],"range":[[1,0],[8,8],[2,6],[2,6,8,6],[14,6],[4,4,12,4]]},"legend":{"title":null,"orient":"none","legendX":167,"legendY":115,"symbolType":"M-2.5,0L2.5,0","symbolSize":100,"symbolStrokeWidth":2,"labelFont":"Liberation Sans","labelFontSize":12,"labelColor":"black","labelOffset":16,"rowPadding":3.3,"padding":0}}
 }},
{"transform":[{"filter":"datum.k==='l'"}],
 "mark":{"type":"rule","color":"black","strokeWidth":2,"strokeDash":[9,5]},
 "encoding":{
  "x":{"datum":5,"type":"quantitative","scale":{"type":"log","domain":[0.005129,177800],"nice":false}}
 }},
{"transform":[{"filter":"datum.k==='l'"}],
 "mark":{"type":"text","text":"TPM=5","font":"Lato","fontSize":24,"align":"left","baseline":"middle","dx":8,"color":"black"},
 "encoding":{
  "x":{"datum":5,"type":"quantitative","scale":{"type":"log","domain":[0.005129,177800],"nice":false}},
  "y":{"datum":0.018,"type":"quantitative","scale":{"type":"log","domain":[0.0000741,1.479],"nice":false}}
 }},
{"transform":[{"filter":"datum.k==='l'"}],
 "mark":{"type":"text","font":"Liberation Sans","fontSize":12,"align":"left","baseline":"middle","color":"black"},
 "encoding":{
  "x":{"datum":3837,"type":"quantitative","scale":{"type":"log","domain":[0.005129,177800],"nice":false}},
  "y":{"datum":0.52,"type":"quantitative","scale":{"type":"log","domain":[0.0000741,1.479],"nice":false}},
  "text":{"field":"r"}
 }},
{"transform":[{"filter":"datum.k==='l'"}],
 "mark":{"type":"text","font":"Liberation Sans","fontSize":12,"align":"right","baseline":"middle","color":"black"},
 "encoding":{
  "x":{"datum":123900,"type":"quantitative","scale":{"type":"log","domain":[0.005129,177800],"nice":false}},
  "y":{"datum":0.275,"type":"quantitative","scale":{"type":"log","domain":[0.0000741,1.479],"nice":false}},
  "text":{"field":"m"}
 }},
{"transform":[{"filter":"datum.k==='l' && datum.p===1"}],
 "mark":{"type":"text","text":"a","font":"Lato","fontSize":42,"fontWeight":"bold","align":"center","baseline":"alphabetic","color":"black","clip":false},
 "encoding":{
  "x":{"datum":0.000329,"type":"quantitative","scale":{"type":"log","domain":[0.005129,177800],"nice":false}},
  "y":{"datum":0.711,"type":"quantitative","scale":{"type":"log","domain":[0.0000741,1.479],"nice":false}}
 }},
{"transform":[{"filter":"datum.k==='l' && datum.p===5"}],
 "mark":{"type":"text","text":"Cumulative Distribution Function","font":"Lato","fontSize":30.5,"fontWeight":"bold","align":"center","baseline":"middle","angle":270,"color":"black","clip":false},
 "encoding":{
  "x":{"datum":0.0002415,"type":"quantitative","scale":{"type":"log","domain":[0.005129,177800],"nice":false}},
  "y":{"datum":0.0063,"type":"quantitative","scale":{"type":"log","domain":[0.0000741,1.479],"nice":false}}
 }}
]},
"config":{"view":{"stroke":"black","strokeWidth":2,"fill":"white"},"axis":{"grid":false},"header":{"labels":false}}
}
